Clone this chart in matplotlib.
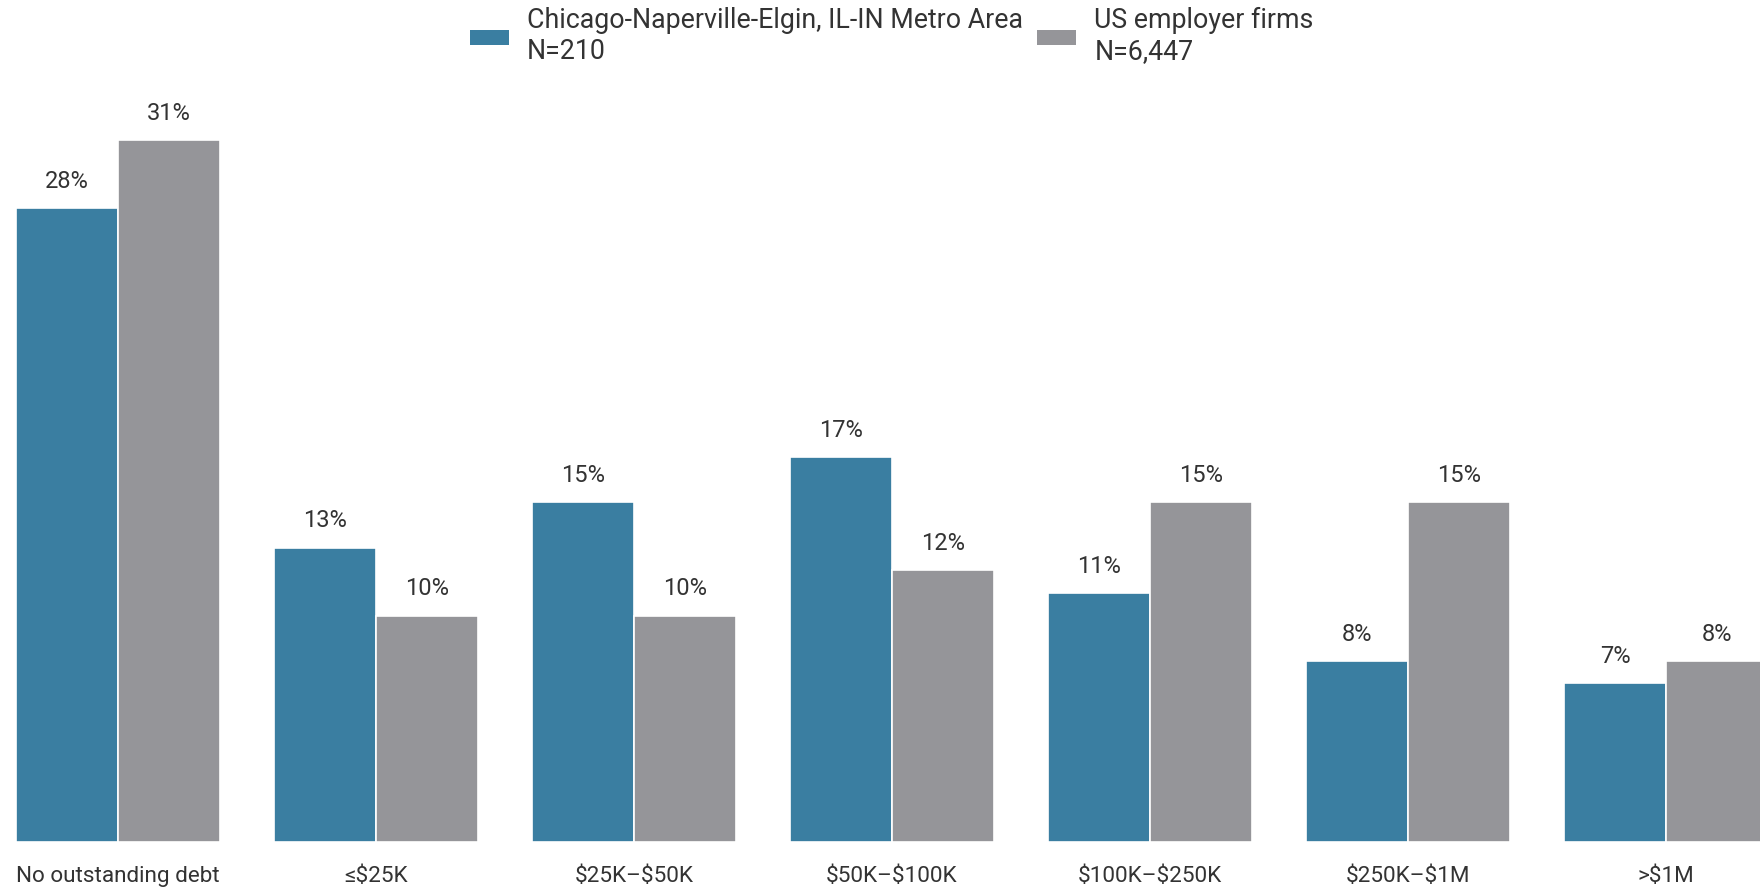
import matplotlib
matplotlib.use("Agg")
import matplotlib.pyplot as plt
import numpy as np
from matplotlib.patches import Patch

categories = ["No outstanding debt", "\u2264\\$25K", "\\$25K\u2013\\$50K", "\\$50K\u2013\\$100K",
              "\\$100K\u2013\\$250K", "\\$250K\u2013\\$1M", ">\\$1M"]
chicago = [28, 13, 15, 17, 11, 8, 7]
us = [31, 10, 10, 12, 15, 15, 8]
series_labels = ["Chicago-Naperville-Elgin, IL-IN Metro Area\nN=210", "US employer firms\nN=6,447"]
colors = ["#3a7ea1", "#959599"]

plt.rcParams['font.family'] = ['Roboto', 'DejaVu Sans']
text_color = "#333333"

W, H, dpi = 1760, 889, 100
fig = plt.figure(figsize=(W / dpi, H / dpi), dpi=dpi)
base_px = 842
ax = fig.add_axes([0, (H - base_px) / H, 1, base_px / H])

x = np.arange(len(categories))
bw = 0.395
b1 = ax.bar(x - bw / 2, chicago, bw, color=colors[0], edgecolor="white", linewidth=1.2, label=series_labels[0])
b2 = ax.bar(x + bw / 2, us, bw, color=colors[1], edgecolor="white", linewidth=1.2, label=series_labels[1])

for bars, vals in ((b1, chicago), (b2, us)):
    for r, v in zip(bars, vals):
        ax.annotate(f"{v}%", (r.get_x() + r.get_width() / 2, v), xytext=(0, 11),
                    textcoords="offset points", ha="center", va="bottom",
                    fontsize=17, color=text_color)

px_per_unit = 258.0
ax.set_xlim(-118 / px_per_unit, (W - 118) / px_per_unit)
ax.set_ylim(0, base_px / 22.65)
ax.set_xticks(x)
ax.set_xticklabels(categories, fontsize=16.2, color=text_color)
ax.tick_params(axis="x", length=0, pad=17)
ax.set_yticks([])
for s in ax.spines.values():
    s.set_visible(False)

handles = [Patch(facecolor=colors[0]), Patch(facecolor=colors[1])]
fig.legend(handles, series_labels, loc="upper center", bbox_to_anchor=(0.5067, 1.007), ncol=2,
           frameon=False, fontsize=19.3, labelcolor=text_color, handlelength=1.45, handleheight=0.5,
           handletextpad=0.67, columnspacing=0.55, borderaxespad=0.1, labelspacing=0.15)

fig.savefig("out.png", dpi=dpi)
